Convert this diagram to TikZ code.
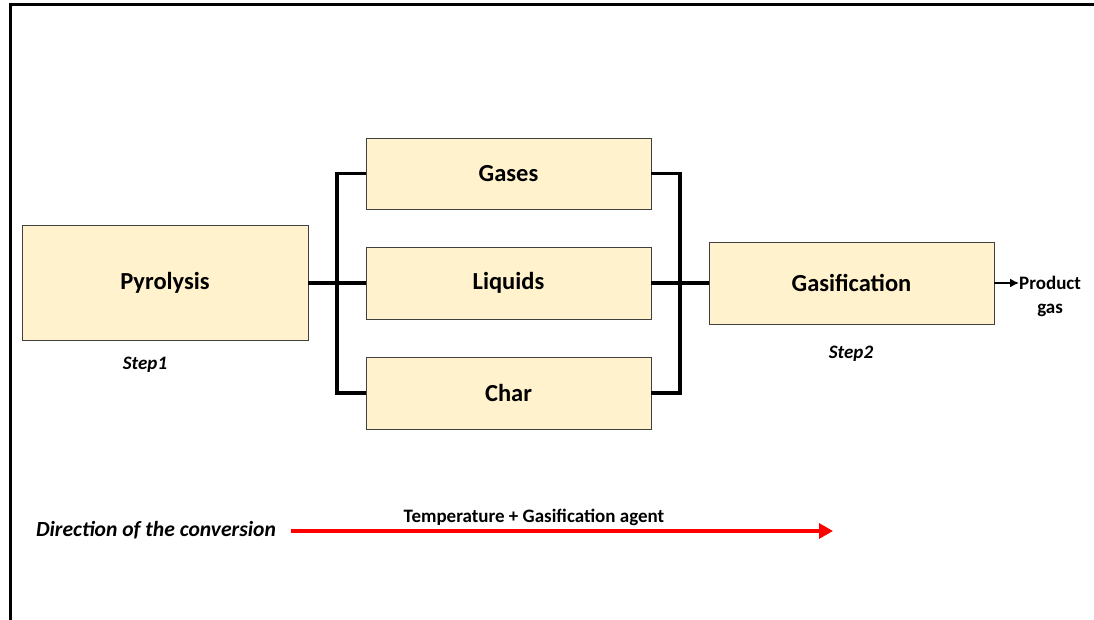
\documentclass[tikz,border=0pt]{standalone}
\usepackage{fontspec}
\setmainfont{Carlito}
\usetikzlibrary{arrows.meta}
\definecolor{boxfill}{HTML}{FFF2CC}
\definecolor{boxline}{HTML}{404040}
\begin{document}
\begin{tikzpicture}[x=1pt,y=-1pt,
  blk/.style={draw=boxline,line width=0.9pt,fill=boxfill,minimum width=#1,inner sep=0pt,font=\bfseries\fontsize{24.5}{29}\selectfont},
  conn/.style={line width=3.2pt,line join=miter},
  lbl/.style={font=\bfseries\itshape\fontsize{19}{23}\selectfont}]
\useasboundingbox (0,0) rectangle (1094,620);
\draw[line width=3pt] (1094,5) -- (10.5,5) -- (10.5,620);
\node[blk=286pt,minimum height=115pt] (pyr) at (165,283) {Pyrolysis};
\node[blk=285pt,minimum height=71pt] (gas) at (508.5,173.5) {Gases};
\node[blk=285pt,minimum height=72pt] (liq) at (508.5,283) {Liquids};
\node[blk=285pt,minimum height=72pt] (chr) at (508.5,393) {Char};
\node[blk=285pt,minimum height=82pt] (gsf) at (851.5,283) {Gasification};
\coordinate (lb) at (337,283);
\coordinate (rb) at (680,283);
\draw[conn] (pyr.east) -- (liq.west);
\draw[conn] (gas.west) -- (gas.west -| lb) -- (chr.west -| lb) -- (chr.west);
\draw[conn] (liq.east) -- (gsf.west);
\draw[conn] (gas.east) -- (gas.east -| rb) -- (chr.east -| rb) -- (chr.east);
\node[lbl] (s1) at (145,365) {Step1};
\node[lbl] (s2) at (851,354) {Step2};
\node[font=\bfseries\fontsize{19}{24}\selectfont,align=center,anchor=west,inner sep=0pt] (prod) at (1019,296) {Product\\gas};
\draw[line width=1.6pt,-{Latex[length=9pt,width=9pt]}] (gsf.east) -- (gsf.east -| prod.west);
\node[font=\bfseries\itshape\fontsize{21.6}{26}\selectfont] (dir) at (156,530) {Direction of the conversion};
\coordinate (as) at (291,531);
\coordinate (ae) at (833,531);
\draw[red,line width=3.2pt,-{Triangle[length=14pt,width=15pt]}] (as) -- (ae);
\node[font=\bfseries\fontsize{19}{23}\selectfont] (tmp) at (534,517) {Temperature + Gasification agent};
\end{tikzpicture}
\end{document}
